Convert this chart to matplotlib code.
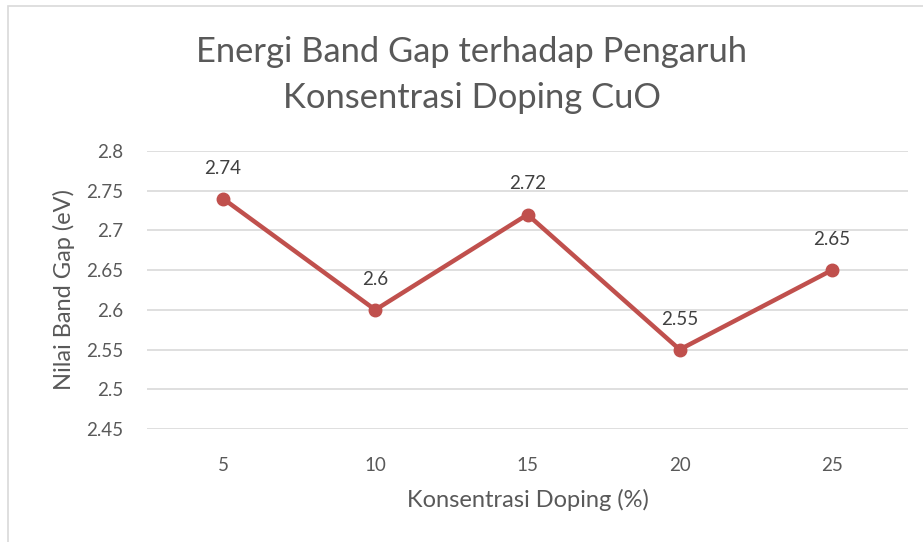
import matplotlib.pyplot as plt
from matplotlib.patches import Rectangle

doping = [5, 10, 15, 20, 25]
band_gap = [2.74, 2.6, 2.72, 2.55, 2.65]
y_ticks = [2.45, 2.5, 2.55, 2.6, 2.65, 2.7, 2.75, 2.8]

plt.rcParams['font.family'] = ['Lato', 'DejaVu Sans']
grey = '#595959'

fig = plt.figure(figsize=(9.23, 5.42), dpi=100)
ax = fig.add_axes([147 / 923, 113 / 542, 761 / 923, 278 / 542])

# chart frame like the Excel chart area
fig.patches.append(Rectangle((8 / 923, -0.1), 1.0, 1.0 - 6 / 542 + 0.1,
                             transform=fig.transFigure, fill=False,
                             edgecolor='#d9d9d9', linewidth=1.2))

idx = list(range(len(doping)))
ax.plot(idx, band_gap, color='#c0504d', linewidth=3.2, marker='o',
        markersize=9, solid_capstyle='round', zorder=3)
for i, v in zip(idx, band_gap):
    ax.annotate(f'{v:g}', (i, v), xytext=(0, 22), textcoords='offset points',
                ha='center', va='center', fontsize=13.5, color='#404040')

ax.set_xlim(-0.5, len(doping) - 0.5)
ax.set_ylim(2.45, 2.8)
ax.set_xticks(idx)
ax.set_xticklabels([str(d) for d in doping])
ax.set_yticks(y_ticks)
ax.set_yticklabels([f'{t:g}' for t in y_ticks])
ax.tick_params(length=0, labelsize=13.5, colors=grey)
ax.tick_params(axis='x', pad=20)
ax.tick_params(axis='y', pad=17)
ax.grid(axis='y', color='#d9d9d9', linewidth=1.2)
ax.set_axisbelow(True)
for s in ax.spines.values():
    s.set_visible(False)

ax.set_xlabel('Konsentrasi Doping (%)', fontsize=17, color=grey, labelpad=11)
ax.set_ylabel('Nilai Band Gap (eV)', fontsize=17, color=grey, labelpad=8)

fig.text(472 / 923, 1 - 75 / 542, 'Energi Band Gap terhadap Pengaruh\nKonsentrasi Doping CuO',
         ha='center', va='center', fontsize=24.8, color=grey, linespacing=1.5)

fig.savefig('out.png', dpi=100)
